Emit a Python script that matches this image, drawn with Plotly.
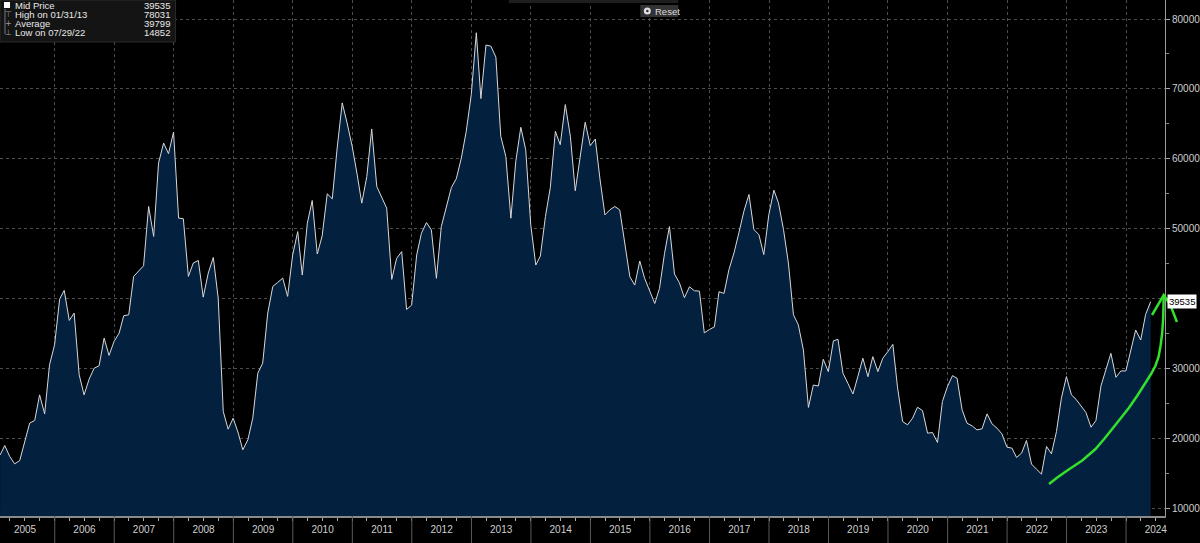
import pandas as pd
import plotly.graph_objects as go

# ---- data (monthly, month-end) ----
start_month = "2005-01-31"
values = [
    17600, 18950, 17370, 16320, 16800, 19280, 22150, 22530, 26200, 23480, 30500, 33370,  # 2005
    39900, 41150, 36850, 37900, 29070, 26200, 28450, 30020, 30360, 34320, 31840, 33840,  # 2006
    35030, 37520, 37660, 43150, 44010, 44680, 53170, 48880, 59380, 62240, 60720, 63820,  # 2007
    51500, 51410, 43150, 45060, 45440, 40190, 43630, 45870, 40050, 23820, 21290, 22860,  # 2008
    20720, 18330, 19760, 22860, 29310, 30740, 37900, 41720, 42290, 42910, 40290, 46250,  # 2009
    49570, 43350, 50770, 54020, 46360, 48950, 54980, 54260, 61530, 67990, 65120, 61770,  # 2010
    57700, 53640, 57460, 64260, 56030, 54590, 52920, 42730, 45740, 46700, 38420, 39040,  # 2011
    46220, 49330, 50860, 49810, 42870, 50290, 52920, 55890, 57130, 60100, 63920, 69190,  # 2012
    78031, 68610, 76270, 76120, 74550, 63210, 60330, 51480, 59620, 64500, 61290, 50530,  # 2013
    44780, 46080, 51720, 55890, 63920, 62010, 67750, 63210, 55410, 60100, 65220, 61870,  # 2014
    62820, 57220, 51960, 52680, 53160, 52680, 47890, 43110, 41910, 45360, 42870, 41200,  # 2015
    39280, 41440, 46460, 50290, 43490, 42250, 40100, 41670, 41100, 41050, 35070, 35550,  # 2016
    35930, 40960, 40720, 44110, 46510, 49380, 52490, 54880, 49860, 49140, 46270, 52010,  # 2017
    55500, 53680, 49860, 45070, 37660, 36220, 32630, 24400, 27610, 27460, 31290, 29520,  # 2018
    33920, 34160, 29280, 27850, 26320, 28800, 31440, 28800, 31670, 29520, 31430, 32380,  # 2019
    33430, 27190, 22380, 21900, 22860, 24430, 23950, 20710, 20810, 19380, 25240, 27380,  # 2020
    28950, 28570, 24050, 22140, 21760, 21190, 21330, 23480, 22050, 21430, 20620, 18710,  # 2021
    18570, 17240, 17860, 19670, 16290, 15570, 14852, 18810, 17760, 20950, 25710, 28810,  # 2022
    26190, 25570, 24520, 23670, 21570, 22520, 27480, 29860, 32140, 28710, 29620, 29620,  # 2023
    32520, 35480, 34050, 37710, 39535,                                                  # 2024
]
dates = pd.date_range(start_month, periods=len(values), freq="ME")

years = list(range(2006, 2025))
y_ticks = [10000, 20000, 30000, 40000, 50000, 60000, 70000, 80000]
# the 40000 label sits under the last-value box in the reference
y_ticktext = ["10000", "20000", "30000", "", "50000", "60000", "70000", "80000"]

legend_labels = ["Mid Price", "High on 01/31/13", "Average", "Low on 07/29/22"]
legend_values = ["39535", "78031", "39799", "14852"]
legend_icons = ["", "\u22a4", "+", "\u22a5"]
last_value = values[-1]

# ---- figure ----
W, H = 1200, 543
ML, MR, MT, MB = 0, 32, 0, 27
PW, PH = W - ML - MR, H - MT - MB


def px(x):
    return x / PW


def py(y):
    return 1 - y / PH


fig = go.Figure()
fig.add_trace(go.Scatter(
    x=dates, y=values, mode="lines",
    line=dict(color="#d8d8d8", width=1),
    fill="tozeroy", fillcolor="#04203f",
    hoverinfo="x+y", showlegend=False,
))

shapes = []
# year separators in the label band
for yr in years:
    shapes.append(dict(type="line", xref="x", yref="paper",
                       x0=f"{yr}-01-01", x1=f"{yr}-01-01", y0=0, y1=-MB / PH,
                       line=dict(color="#5a5a5a", width=1)))

# legend box
shapes.append(dict(type="rect", xref="paper", yref="paper",
                   x0=px(0), x1=px(176), y0=py(0), y1=py(42),
                   fillcolor="#141414", line=dict(color="#2a2a2a", width=1), layer="above"))
shapes.append(dict(type="rect", xref="paper", yref="paper",
                   x0=px(4), x1=px(10), y0=py(2), y1=py(8),
                   fillcolor="#ffffff", line=dict(width=0), layer="above"))
shapes.append(dict(type="line", xref="paper", yref="paper",
                   x0=px(5), x1=px(5), y0=py(9), y1=py(34),
                   line=dict(color="#777", width=1), layer="above"))

# top strip + reset button
shapes.append(dict(type="rect", xref="paper", yref="paper",
                   x0=px(510), x1=px(680), y0=py(0), y1=py(3),
                   fillcolor="#1e1e1e", line=dict(width=0), layer="above"))
shapes.append(dict(type="rect", xref="paper", yref="paper",
                   x0=px(642), x1=px(680), y0=py(5), y1=py(17),
                   fillcolor="#333333", line=dict(width=0), layer="above"))
shapes.append(dict(type="circle", xref="paper", yref="paper",
                   x0=px(645.5), x1=px(652.5), y0=py(7.5), y1=py(14.5),
                   fillcolor="#e0e0e0", line=dict(width=0), layer="above"))
shapes.append(dict(type="circle", xref="paper", yref="paper",
                   x0=px(647.7), x1=px(650.3), y0=py(9.7), y1=py(12.3),
                   fillcolor="#333333", line=dict(width=0), layer="above"))

# hand-drawn green arrow (annotation)
curve = [(1051.7, 484), (1060, 477.5), (1070, 470.5), (1085, 460.5), (1098.3, 449),
         (1107, 439), (1115, 429), (1123, 419), (1131.7, 408), (1140, 396),
         (1148.3, 383), (1154, 374), (1158.3, 366), (1161.5, 357), (1163.5, 346),
         (1165.2, 333), (1166.2, 318), (1166.7, 296)]
path = "M " + " L ".join(f"{px(a):.5f},{py(b):.5f}" for a, b in curve)
shapes.append(dict(type="path", xref="paper", yref="paper", path=path,
                   line=dict(color="#33e02c", width=2.5), layer="above"))
head = [(1155, 315), (1166.7, 295), (1173, 304), (1180, 322)]
hpath = "M " + " L ".join(f"{px(a):.5f},{py(b):.5f}" for a, b in head)
shapes.append(dict(type="path", xref="paper", yref="paper", path=hpath,
                   line=dict(color="#33e02c", width=2.5), layer="above"))

annotations = []
row_y = [5.5, 14.5, 23.5, 32.5]
for lab, val, ic, ry in zip(legend_labels, legend_values, legend_icons, row_y):
    annotations.append(dict(xref="paper", yref="paper", x=px(13), y=py(ry),
                            xanchor="left", yanchor="middle", text=lab, showarrow=False,
                            font=dict(family="Liberation Sans, Arial", size=9.5, color="#e8e8e8")))
    annotations.append(dict(xref="paper", yref="paper", x=px(172), y=py(ry),
                            xanchor="right", yanchor="middle", text=val, showarrow=False,
                            font=dict(family="Liberation Sans, Arial", size=9.5, color="#e8e8e8")))
    if ic:
        annotations.append(dict(xref="paper", yref="paper", x=px(8.5), y=py(ry),
                                xanchor="center", yanchor="middle", text=ic, showarrow=False,
                                font=dict(family="DejaVu Sans", size=8, color="#9a9a9a")))
annotations.append(dict(xref="paper", yref="paper", x=px(655), y=py(11),
                        xanchor="left", yanchor="middle", text="Reset", showarrow=False,
                        font=dict(family="Liberation Sans, Arial", size=9.5, color="#dddddd")))
annotations.append(dict(xref="paper", yref="y", x=1, y=last_value, xanchor="left",
                        yanchor="middle", xshift=2, text=str(last_value), showarrow=False,
                        bgcolor="#ffffff", borderpad=1,
                        font=dict(family="Liberation Sans, Arial", size=9.5, color="#000000")))

axis_font = dict(family="Liberation Sans, Arial", size=10, color="#cfcfcf")
fig.update_layout(
    width=W, height=H,
    margin=dict(l=ML, r=MR, t=MT, b=MB),
    paper_bgcolor="#000000", plot_bgcolor="#000000",
    showlegend=False,
    shapes=shapes, annotations=annotations,
    xaxis=dict(
        type="date", range=["2005-01-30", "2024-08-27"],
        tick0="2005-01-01", dtick="M12", tickformat="%Y", ticklabelmode="period",
        ticks="outside", ticklen=3, tickcolor="#aaaaaa",
        showgrid=True, gridcolor="#4e4e4e", griddash="dot", gridwidth=1,
        showline=True, linecolor="#8a8a8a", linewidth=2,
        tickfont=axis_font, zeroline=False,
        minor=dict(dtick="M3", ticks="outside", ticklen=3, tickcolor="#aaaaaa", showgrid=False),
    ),
    yaxis=dict(
        side="right", range=[8858, 82720],
        tickvals=y_ticks, ticktext=y_ticktext,
        ticks="outside", ticklen=4, tickcolor="#aaaaaa",
        showgrid=True, gridcolor="#4e4e4e", griddash="dot", gridwidth=1,
        showline=True, linecolor="#9a9a9a", linewidth=1,
        tickfont=axis_font, zeroline=False,
        minor=dict(dtick=5000, tick0=0, ticks="outside", ticklen=3, tickcolor="#888888", showgrid=False),
    ),
)

fig.write_html(
    "out.html",
    config={"displayModeBar": False},
    post_script="document.body.style.margin='0';document.body.style.background='#000';",
)
